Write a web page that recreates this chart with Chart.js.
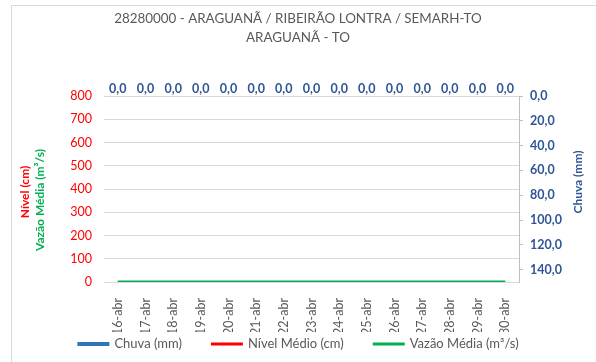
<!DOCTYPE html>
<html>
<head>
<meta charset="utf-8">
<script src="https://cdn.jsdelivr.net/npm/chart.js@4.4.1/dist/chart.umd.min.js"></script>
<style>
	html, body { margin: 0; padding: 0; background: #fff; }
	#wrap { position: relative; width: 596px; height: 362px; overflow: hidden; }
	#frame { position: absolute; left: 11px; top: 5px; width: 600px; height: 400px; border: 1px solid #d9d9d9; box-sizing: border-box; }
	canvas { position: absolute; left: 0; top: 0; }
</style>
</head>
<body>
<div id="wrap">
	<div id="frame"></div>
	<canvas id="chart" width="596" height="362"></canvas>
</div>
<script>
const FONT = "Lato, 'Liberation Sans', sans-serif";

const dias = ["16-abr", "17-abr", "18-abr", "19-abr", "20-abr", "21-abr", "22-abr", "23-abr",
	"24-abr", "25-abr", "26-abr", "27-abr", "28-abr", "29-abr", "30-abr"];
const chuva = [0, 0, 0, 0, 0, 0, 0, 0, 0, 0, 0, 0, 0, 0, 0];
const nivelMedio = [0, 0, 0, 0, 0, 0, 0, 0, 0, 0, 0, 0, 0, 0, 0];
const vazaoMedia = [0, 0, 0, 0, 0, 0, 0, 0, 0, 0, 0, 0, 0, 0, 0];
const ticksChuva = [0, 20, 40, 60, 80, 100, 120, 140];

const titulo = ["28280000 - ARAGUANÃ / RIBEIRÃO LONTRA / SEMARH-TO", "ARAGUANÃ - TO"];

const corChuva = "#2E75B6";
const corTextoChuva = "#2F5597";
const corNivel = "#FF0000";
const corVazao = "#00B050";

function virgula(v) {
	return Number(v).toFixed(1).replace(".", ",");
}

// rain value labels above each bar, rotated side titles and the legend row
const extras = {
	id: "extras",
	afterDatasetsDraw(chart) {
		const ctx = chart.ctx;
		const meta = chart.getDatasetMeta(0);
		ctx.save();
		ctx.font = "bold 12.5px " + FONT;
		ctx.fillStyle = corTextoChuva;
		ctx.textAlign = "center";
		ctx.textBaseline = "middle";
		meta.data.forEach((bar, i) => {
			const y = Math.min(bar.y, bar.base) - 7;
			ctx.fillText(virgula(chuva[i]), bar.x, y);
		});
		ctx.restore();
	},
	afterDraw(chart) {
		const ctx = chart.ctx;
		const side = (text, x, y, color) => {
			ctx.save();
			ctx.translate(x, y);
			ctx.rotate(-Math.PI / 2);
			ctx.font = "bold 12px " + FONT;
			ctx.fillStyle = color;
			ctx.textAlign = "center";
			ctx.textBaseline = "middle";
			ctx.fillText(text, 0, 0);
			ctx.restore();
		};
		side("Nível (cm)", 25, 192, corNivel);
		side("Vazão Média (m³/s)", 40, 200, corVazao);
		side("Chuva (mm)", 578, 182, corTextoChuva);

		// legend
		const boxW = 32, gap = 5, spacing = 29, y = 344;
		const items = chart.data.datasets.map((ds) => ({
			text: ds.label,
			color: ds.type === "bar" ? ds.backgroundColor : ds.borderColor,
			thick: ds.type === "bar" ? 4 : 3,
		}));
		ctx.save();
		ctx.font = "13px " + FONT;
		ctx.textBaseline = "middle";
		ctx.textAlign = "left";
		const widths = items.map((it) => boxW + gap + ctx.measureText(it.text).width);
		const total = widths.reduce((a, b) => a + b, 0) + spacing * (items.length - 1);
		let x = (chart.width - total) / 2;
		items.forEach((it, i) => {
			ctx.fillStyle = it.color;
			ctx.fillRect(x, y - it.thick / 2, boxW, it.thick);
			ctx.fillStyle = "#595959";
			ctx.fillText(it.text, x + boxW + gap, y);
			x += widths[i] + spacing;
		});
		ctx.restore();
	}
};

new Chart(document.getElementById("chart"), {
	data: {
		labels: dias,
		datasets: [
			{
				type: "bar",
				label: "Chuva (mm)",
				data: chuva,
				yAxisID: "y2",
				backgroundColor: corChuva,
				borderWidth: 0,
				order: 3,
			},
			{
				type: "line",
				label: "Nível Médio (cm)",
				data: nivelMedio,
				yAxisID: "y",
				borderColor: corNivel,
				borderWidth: 2,
				pointRadius: 0,
				order: 2,
			},
			{
				type: "line",
				label: "Vazão Média (m³/s)",
				data: vazaoMedia,
				yAxisID: "y",
				borderColor: corVazao,
				borderWidth: 3,
				pointRadius: 0,
				order: 1,
			},
		],
	},
	options: {
		responsive: false,
		animation: false,
		layout: { padding: { top: 9.5, bottom: 30, left: 0, right: 0 } },
		plugins: {
			title: {
				display: true,
				text: titulo,
				color: "#595959",
				font: { family: FONT, size: 13.4, weight: "normal", lineHeight: 1.42 },
				padding: { top: 0, bottom: 48.5 },
			},
			legend: { display: false },
			tooltip: { enabled: false },
		},
		scales: {
			x: {
				offset: true,
				grid: { display: false },
				border: { display: true, color: "#d9d9d9" },
				ticks: {
					minRotation: 90,
					maxRotation: 90,
					autoSkip: false,
					padding: 8,
					color: "#595959",
					font: { family: FONT, size: 12.5 },
				},
				afterFit(scale) { scale.height = 50; },
			},
			y: {
				position: "left",
				min: 0,
				max: 800,
				ticks: {
					stepSize: 100,
					padding: 12,
					color: corNivel,
					font: { family: FONT, size: 12.5 },
				},
				grid: { color: "#d9d9d9", drawTicks: false },
				border: { display: false },
				afterFit(scale) { scale.width = 104; },
			},
			y2: {
				position: "right",
				reverse: true,
				min: 0,
				max: 150,
				ticks: {
					padding: 7,
					color: corTextoChuva,
					font: { family: FONT, size: 12.5, weight: "bold" },
					callback: (v) => virgula(v),
				},
				grid: { drawOnChartArea: false, color: "#bfbfbf", tickLength: 4 },
				border: { display: true, color: "#bfbfbf" },
				afterBuildTicks(scale) {
					scale.ticks = ticksChuva.map((v) => ({ value: v }));
				},
				afterFit(scale) { scale.width = 77; },
			},
		},
	},
	plugins: [extras],
});
</script>
</body>
</html>
